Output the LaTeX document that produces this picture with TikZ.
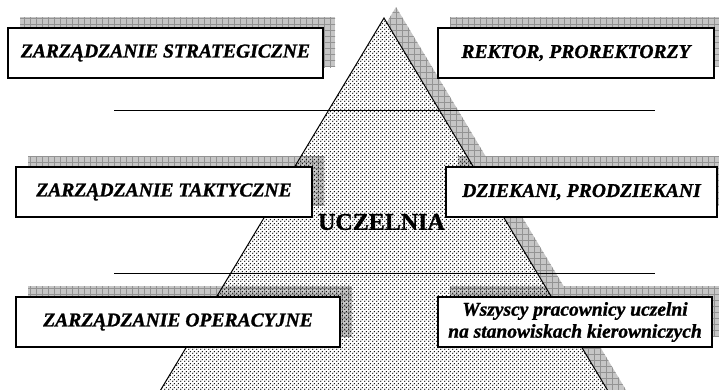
\documentclass[tikz,border=0pt]{standalone}
\usepackage{fontspec}
\setmainfont{Liberation Serif}[BoldItalicFeatures={FakeBold=1.2},BoldFeatures={FakeBold=1.0}]
\usetikzlibrary{patterns}
\pgfdeclarepatternformonly{bdots}{\pgfpointorigin}{\pgfqpoint{4pt}{4pt}}{\pgfqpoint{4pt}{4pt}}{%
  \pgfpathcircle{\pgfqpoint{1pt}{1pt}}{0.85pt}%
  \pgfpathcircle{\pgfqpoint{3pt}{3pt}}{0.85pt}%
  \pgfusepath{fill}}
\tikzset{
  shadowfill/.style={fill=gray!45},
  gridl/.style={draw=gray!85, line width=0.5pt},
  lvlbox/.style={draw=black, line width=1.4pt, fill=white, minimum height=50pt,
    font=\fontsize{19.6}{22}\selectfont\bfseries\itshape, align=center, inner sep=0pt},
  hline/.style={draw=black, line width=1pt},
  tri/.style={draw=black, line width=1pt},
}
\newcommand\gridshadow[2]{%
  \fill[shadowfill] #1 rectangle #2;
  \begin{scope}
    \clip #1 rectangle #2;
    \draw[gridl, step=6pt] (0,0) grid (730,400);
  \end{scope}}
\begin{document}
\begin{tikzpicture}[x=1pt,y=-1pt]
\clip (0,0) rectangle (719,389);
\fill[white] (0,0) rectangle (719,389);
% triangle shadow
\fill[shadowfill] (396,7) -- (160,400) -- (632,400) -- cycle;
\begin{scope}
  \clip (396,7) -- (160,400) -- (632,400) -- cycle;
  \draw[gridl, step=6pt] (0,0) grid (730,400);
\end{scope}
% triangle white base
\fill[white] (384,18) -- (148,411) -- (620,411) -- cycle;
% box shadows
\gridshadow{(20,17)}{(335,67)}
\gridshadow{(450,17)}{(726,67)}
\gridshadow{(28,156)}{(324,206)}
\gridshadow{(458,156)}{(729,206)}
\gridshadow{(28,286)}{(352,336)}
\gridshadow{(450,286)}{(724,336)}
% triangle dots and outline
\fill[pattern=bdots, pattern color=black] (384,18) -- (148,411) -- (620,411) -- cycle;
\draw[tri] (148,411) -- (384,18) -- (620,411);
% lines
\draw[hline] (114,110) -- (655,110);
\draw[hline] (114,273) -- (655,273);
% boxes
\node[lvlbox, minimum width=315pt] (b1) at (165.5,53) {ZARZĄDZANIE STRATEGICZNE};
\node[lvlbox, minimum width=276pt] (b2) at (576,53) {REKTOR, PROREKTORZY};
\node[lvlbox, minimum width=296pt] (b3) at (164,192) {ZARZĄDZANIE TAKTYCZNE};
\node[lvlbox, minimum width=271pt] (b4) at (581.5,192) {DZIEKANI, PRODZIEKANI};
\node[lvlbox, minimum width=324pt] (b5) at (178,322) {ZARZĄDZANIE OPERACYJNE};
\node[lvlbox, minimum width=274pt, font=\fontsize{19.5}{22}\selectfont\bfseries\itshape] (b6) at (575,322) {Wszyscy pracownicy uczelni\\na stanowiskach kierowniczych};
\node[font=\fontsize{24}{26}\selectfont\bfseries, inner sep=0pt] (u) at (381.5,222) {UCZELNIA};
\end{tikzpicture}
\end{document}
